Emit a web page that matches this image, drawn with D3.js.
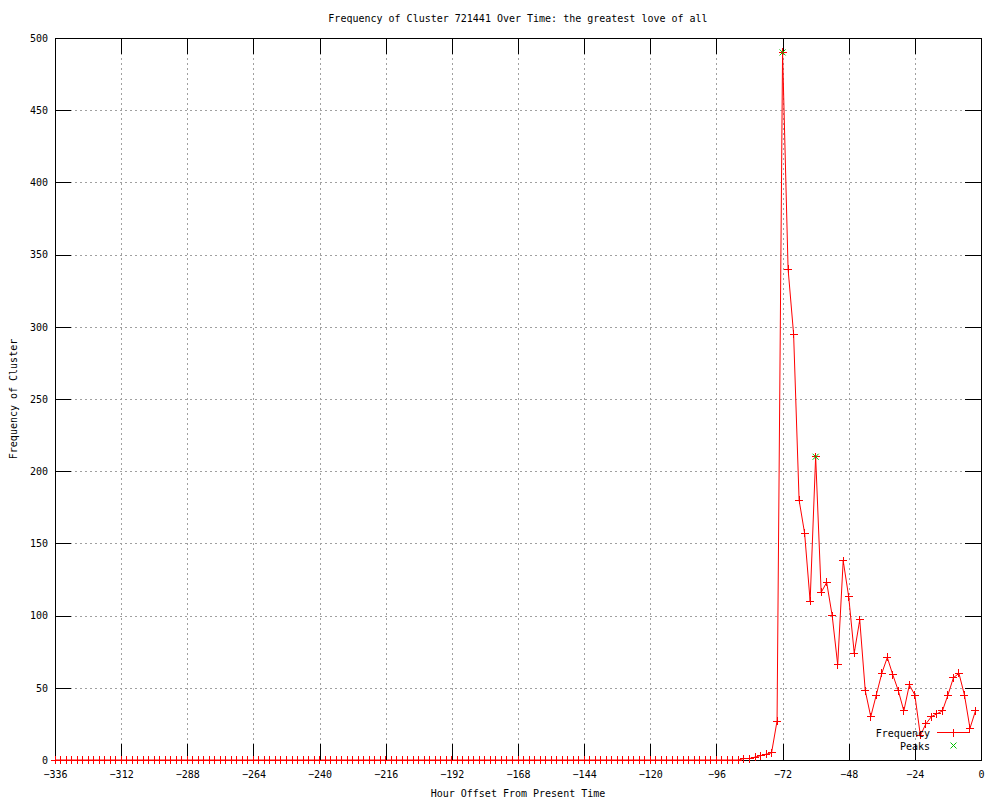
<!DOCTYPE html>
<html>
<head>
<meta charset="utf-8">
<script src="https://cdn.jsdelivr.net/npm/d3@7"></script>
<style>
  body { margin: 0; background: #fff; }
  text { font-family: "DejaVu Sans Mono", monospace; font-size: 10px; fill: #000; }
  .grid line { stroke: #a0a0a0; stroke-dasharray: 2,3; shape-rendering: crispEdges; }
  .grid path { display: none; }
  .ticks line { stroke: #000; shape-rendering: crispEdges; }
  .ticks path { display: none; }
  .mark { shape-rendering: crispEdges; }
</style>
</head>
<body>
<div id="chart"></div>
<script>
// hours before now, one sample every 2 hours
const startHour = -336;
const hourStep = 2;

// frequency of the cluster at each sample, from -336 to -2
const frequency = [
  0, 0, 0, 0, 0, 0, 0, 0, 0, 0, 0, 0, 0, 0, 0, 0, 0, 0, 0, 0, 0, 0, 0, 0, 0,
  0, 0, 0, 0, 0, 0, 0, 0, 0, 0, 0, 0, 0, 0, 0, 0, 0, 0, 0, 0, 0, 0, 0, 0, 0,
  0, 0, 0, 0, 0, 0, 0, 0, 0, 0, 0, 0, 0, 0, 0, 0, 0, 0, 0, 0, 0, 0, 0, 0, 0,
  0, 0, 0, 0, 0, 0, 0, 0, 0, 0, 0, 0, 0, 0, 0, 0, 0, 0, 0, 0, 0, 0, 0, 0, 0,
  0, 0, 0, 0, 0, 0, 0, 0, 0, 0, 0, 0, 0, 0, 0, 0, 0, 0, 0, 0, 0, 0, 0, 0, 0,
  1, 1, 2, 3, 4, 5, 27, 490, 340, 295,
  180, 157, 110, 210, 116, 123, 100, 66, 138, 113,
  74, 97, 48, 30, 45, 60, 71, 59, 48, 34,
  52, 45, 17, 25, 30, 32, 34, 45, 57, 60,
  45, 22, 34
];

const peakHours = [-72, -60];
const peakValues = [490, 210];

const xTicks = [-336, -312, -288, -264, -240, -216, -192, -168, -144, -120, -96, -72, -48, -24, 0];
const yTicks = [0, 50, 100, 150, 200, 250, 300, 350, 400, 450, 500];

const title = 'Frequency of Cluster 721441 Over Time: the greatest love of all';

const margin = { top: 38, right: 19, bottom: 40, left: 55 };
const totalWidth = 1000;
const totalHeight = 800;
const width = totalWidth - margin.left - margin.right;
const height = totalHeight - margin.top - margin.bottom;

const data = frequency.map((v, i) => [startHour + i * hourStep, v]);
const peaks = peakHours.map((h, i) => [h, peakValues[i]]);

const x = d3.scaleLinear().domain([-336, 0]).range([0, width]);
const y = d3.scaleLinear().domain([0, 500]).range([height, 0]);

const svg = d3.select('#chart').append('svg')
  .attr('width', totalWidth)
  .attr('height', totalHeight);

const g = svg.append('g')
  .attr('transform', 'translate(' + margin.left + ',' + margin.top + ')');

// grid (interior ticks only)
g.append('g')
  .attr('class', 'grid')
  .attr('transform', 'translate(0,' + height + ')')
  .call(d3.axisBottom(x).tickValues(xTicks.slice(1, -1)).tickSize(-height).tickFormat(''));

g.append('g')
  .attr('class', 'grid')
  .call(d3.axisLeft(y).tickValues(yTicks.slice(1, -1)).tickSize(-width).tickFormat(''));

// data line
const line = d3.line()
  .x(d => x(d[0]))
  .y(d => y(d[1]));

g.append('path')
  .datum(data)
  .attr('fill', 'none')
  .attr('stroke', '#ff0000')
  .attr('stroke-width', 1)
  .attr('d', line);

// inward ticks on all four sides
const tickLen = 16;

const xAxis = g.append('g')
  .attr('class', 'ticks')
  .attr('transform', 'translate(0,' + height + ')')
  .call(d3.axisBottom(x).tickValues(xTicks).tickSizeInner(-tickLen).tickSizeOuter(0)
    .tickPadding(10).tickFormat(d => d === 0 ? '0' : '\u2212' + Math.abs(d)));
xAxis.selectAll('text').attr('dy', '0.35em').attr('y', 14);

g.append('g')
  .attr('class', 'ticks')
  .call(d3.axisTop(x).tickValues(xTicks).tickSizeInner(-tickLen).tickSizeOuter(0).tickFormat(''));

const yAxis = g.append('g')
  .attr('class', 'ticks')
  .call(d3.axisLeft(y).tickValues(yTicks).tickSizeInner(-tickLen).tickSizeOuter(0).tickPadding(7));
yAxis.selectAll('text').attr('x', -7);

g.append('g')
  .attr('class', 'ticks')
  .attr('transform', 'translate(' + width + ',0)')
  .call(d3.axisRight(y).tickValues(yTicks).tickSizeInner(-tickLen).tickSizeOuter(0).tickFormat(''));

// border
g.append('rect')
  .attr('width', width)
  .attr('height', height)
  .attr('fill', 'none')
  .attr('stroke', '#000')
  .attr('shape-rendering', 'crispEdges');

// markers
const plus = 'M-4,0H4M0,-4V4';
const cross = 'M-3,-3L3,3M-3,3L3,-3';

g.selectAll('.pt')
  .data(data)
  .enter().append('path')
    .attr('class', 'pt mark')
    .attr('transform', d => 'translate(' + x(d[0]) + ',' + y(d[1]) + ')')
    .attr('d', plus)
    .attr('stroke', '#ff0000')
    .attr('fill', 'none');

g.selectAll('.peak')
  .data(peaks)
  .enter().append('path')
    .attr('class', 'peak')
    .attr('transform', d => 'translate(' + x(d[0]) + ',' + y(d[1]) + ')')
    .attr('d', cross)
    .attr('stroke', '#00c000')
    .attr('fill', 'none');

// legend
const legend = svg.append('g');
legend.append('text')
  .attr('x', 930).attr('y', 733).attr('dy', '0.35em')
  .attr('text-anchor', 'end')
  .text('Frequency');
legend.append('line')
  .attr('class', 'mark')
  .attr('x1', 937).attr('x2', 970).attr('y1', 732.5).attr('y2', 732.5)
  .attr('stroke', '#ff0000');
legend.append('path')
  .attr('class', 'mark')
  .attr('transform', 'translate(953.5,732.5)')
  .attr('d', plus)
  .attr('stroke', '#ff0000');
legend.append('text')
  .attr('x', 930).attr('y', 746).attr('dy', '0.35em')
  .attr('text-anchor', 'end')
  .text('Peaks');
legend.append('path')
  .attr('transform', 'translate(953.5,745.5)')
  .attr('d', cross)
  .attr('stroke', '#00c000');

// titles
svg.append('text')
  .attr('x', margin.left + width / 2)
  .attr('y', 18).attr('dy', '0.35em')
  .attr('text-anchor', 'middle')
  .text(title);

svg.append('text')
  .attr('x', margin.left + width / 2)
  .attr('y', 793).attr('dy', '0.35em')
  .attr('text-anchor', 'middle')
  .text('Hour Offset From Present Time');

svg.append('text')
  .attr('transform', 'translate(13,' + (margin.top + height / 2) + ') rotate(-90)')
  .attr('dy', '0.35em')
  .attr('text-anchor', 'middle')
  .text('Frequency of Cluster');
</script>
</body>
</html>
